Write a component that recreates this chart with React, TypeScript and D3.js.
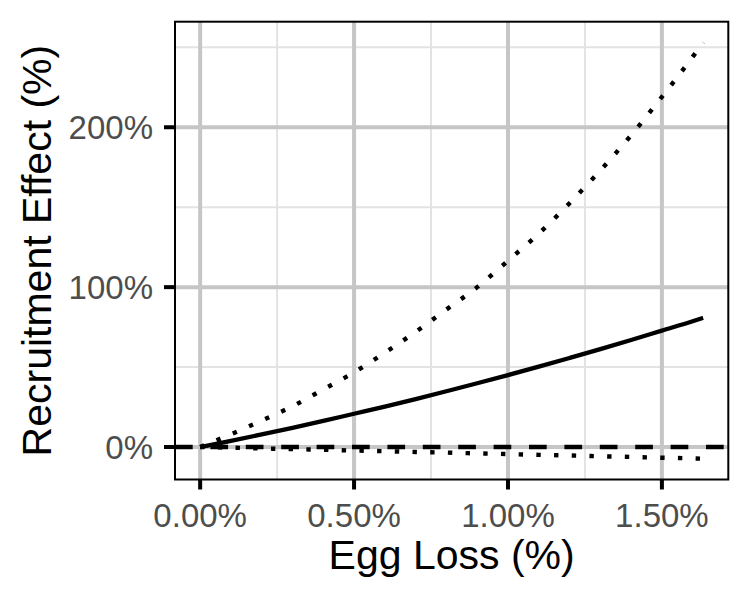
import React, { useEffect, useRef } from 'react';
import * as d3 from 'd3';

// egg loss (%) and recruitment effect (%)
const eggLoss = [0, 0.1, 0.2, 0.3, 0.4, 0.5, 0.6, 0.7, 0.8, 0.9, 1.0, 1.1, 1.2, 1.3, 1.4, 1.5, 1.6, 1.634];
const effectMid = [0, 3.9, 7.9, 12.0, 16.3, 20.8, 25.3, 30.0, 34.9, 39.9, 45.0, 50.3, 55.7, 61.2, 66.9, 72.8, 78.7, 80.8];
const effectHigh = [0, 8, 16.5, 25.5, 36, 46.7, 59, 72, 86, 100, 116.5, 133.5, 152.5, 173, 195, 219, 244, 253];
const effectLow = [0, -0.4, -0.9, -1.3, -1.7, -2.2, -2.6, -3.1, -3.5, -4.0, -4.4, -4.9, -5.3, -5.8, -6.2, -6.7, -7.1, -7.3];

const xMajor = [0, 0.5, 1.0, 1.5];
const xMinor = [0.25, 0.75, 1.25];
const yMajor = [0, 100, 200];
const yMinor = [50, 150, 250];

const xLabels = ['0.00%', '0.50%', '1.00%', '1.50%'];
const yLabels = ['0%', '100%', '200%'];

const FONT = '"Liberation Sans", Arial, sans-serif';

export default function App() {
    const ref = useRef<SVGSVGElement>(null);

    useEffect(() => {
        const svg = d3.select(ref.current);
        svg.selectAll('*').remove();

        const left = 175, right = 728.3, top = 21.7, bottom = 479.5;

        // ggplot style 5% expansion
        const xExt = d3.extent(eggLoss) as [number, number];
        const xPad = (xExt[1] - xExt[0]) * 0.05;
        const allY = effectMid.concat(effectHigh, effectLow);
        const yExt = d3.extent(allY) as [number, number];
        const yPad = (yExt[1] - yExt[0]) * 0.05;

        const x = d3.scaleLinear().domain([xExt[0] - xPad, xExt[1] + xPad]).range([left, right]);
        const y = d3.scaleLinear().domain([yExt[0] - yPad, yExt[1] + yPad]).range([bottom, top]);

        svg.append('rect')
            .attr('x', left).attr('y', top)
            .attr('width', right - left).attr('height', bottom - top)
            .attr('fill', 'white');

        const grid = svg.append('g');
        grid.selectAll('.xminor').data(xMinor).enter().append('line')
            .attr('x1', d => x(d)).attr('x2', d => x(d))
            .attr('y1', top).attr('y2', bottom)
            .attr('stroke', '#e3e3e3').attr('stroke-width', 2);
        grid.selectAll('.yminor').data(yMinor).enter().append('line')
            .attr('x1', left).attr('x2', right)
            .attr('y1', d => y(d)).attr('y2', d => y(d))
            .attr('stroke', '#e3e3e3').attr('stroke-width', 2);
        grid.selectAll('.xmajor').data(xMajor).enter().append('line')
            .attr('x1', d => x(d)).attr('x2', d => x(d))
            .attr('y1', top).attr('y2', bottom)
            .attr('stroke', '#c6c6c6').attr('stroke-width', 4);
        grid.selectAll('.ymajor').data(yMajor).enter().append('line')
            .attr('x1', left).attr('x2', right)
            .attr('y1', d => y(d)).attr('y2', d => y(d))
            .attr('stroke', '#c6c6c6').attr('stroke-width', 4);

        const clip = svg.append('clipPath').attr('id', 'panel')
        clip.append('rect')
            .attr('x', left).attr('y', top)
            .attr('width', right - left).attr('height', bottom - top);

        const plot = svg.append('g').attr('clip-path', 'url(#panel)');

        const line = (vals: number[]) => d3.line<number>()
            .x((d, i) => x(eggLoss[i]))
            .y(d => y(d))
            .curve(d3.curveMonotoneX)(vals);

        // zero reference
        plot.append('line')
            .attr('x1', left).attr('x2', right)
            .attr('y1', y(0)).attr('y2', y(0))
            .attr('stroke', 'black').attr('stroke-width', 4.4)
            .attr('stroke-dasharray', '17.7 17.7');

        plot.append('path')
            .attr('d', line(effectMid))
            .attr('fill', 'none').attr('stroke', 'black')
            .attr('stroke-width', 4.3);

        [effectHigh, effectLow].forEach(vals => {
            plot.append('path')
                .attr('d', line(vals))
                .attr('fill', 'none').attr('stroke', 'black')
                .attr('stroke-width', 4.4)
                .attr('stroke-dasharray', '4.4 13.3');
        });

        svg.append('rect')
            .attr('x', left).attr('y', top)
            .attr('width', right - left).attr('height', bottom - top)
            .attr('fill', 'none').attr('stroke', 'black').attr('stroke-width', 2);

        // ticks
        svg.selectAll('.xtick').data(xMajor).enter().append('line')
            .attr('x1', d => x(d)).attr('x2', d => x(d))
            .attr('y1', bottom).attr('y2', bottom + 10)
            .attr('stroke', 'black').attr('stroke-width', 4);
        svg.selectAll('.ytick').data(yMajor).enter().append('line')
            .attr('x1', left - 11).attr('x2', left)
            .attr('y1', d => y(d)).attr('y2', d => y(d))
            .attr('stroke', 'black').attr('stroke-width', 4);

        svg.selectAll('.xlabel').data(xMajor).enter().append('text')
            .attr('x', d => x(d)).attr('y', 527)
            .attr('text-anchor', 'middle')
            .attr('font-family', FONT).attr('font-size', '33px')
            .attr('fill', '#4d4d4d')
            .text((d, i) => xLabels[i]);
        svg.selectAll('.ylabel').data(yMajor).enter().append('text')
            .attr('x', 153).attr('y', d => y(d) + 12)
            .attr('text-anchor', 'end')
            .attr('font-family', FONT).attr('font-size', '33px')
            .attr('fill', '#4d4d4d')
            .text((d, i) => yLabels[i]);

        svg.append('text')
            .attr('x', (left + right) / 2).attr('y', 569)
            .attr('text-anchor', 'middle')
            .attr('font-family', FONT).attr('font-size', '41px')
            .attr('fill', 'black')
            .text('Egg Loss (%)');
        svg.append('text')
            .attr('transform', `translate(51,${(top + bottom) / 2}) rotate(-90)`)
            .attr('text-anchor', 'middle')
            .attr('font-family', FONT).attr('font-size', '41px')
            .attr('fill', 'black')
            .text('Recruitment Effect (%)');
    }, []);

    return (
        <svg ref={ref} width={750} height={600} viewBox="0 0 750 600"
            style={{ position: 'absolute', left: 0, top: 0, background: 'white' }} />
    );
}
